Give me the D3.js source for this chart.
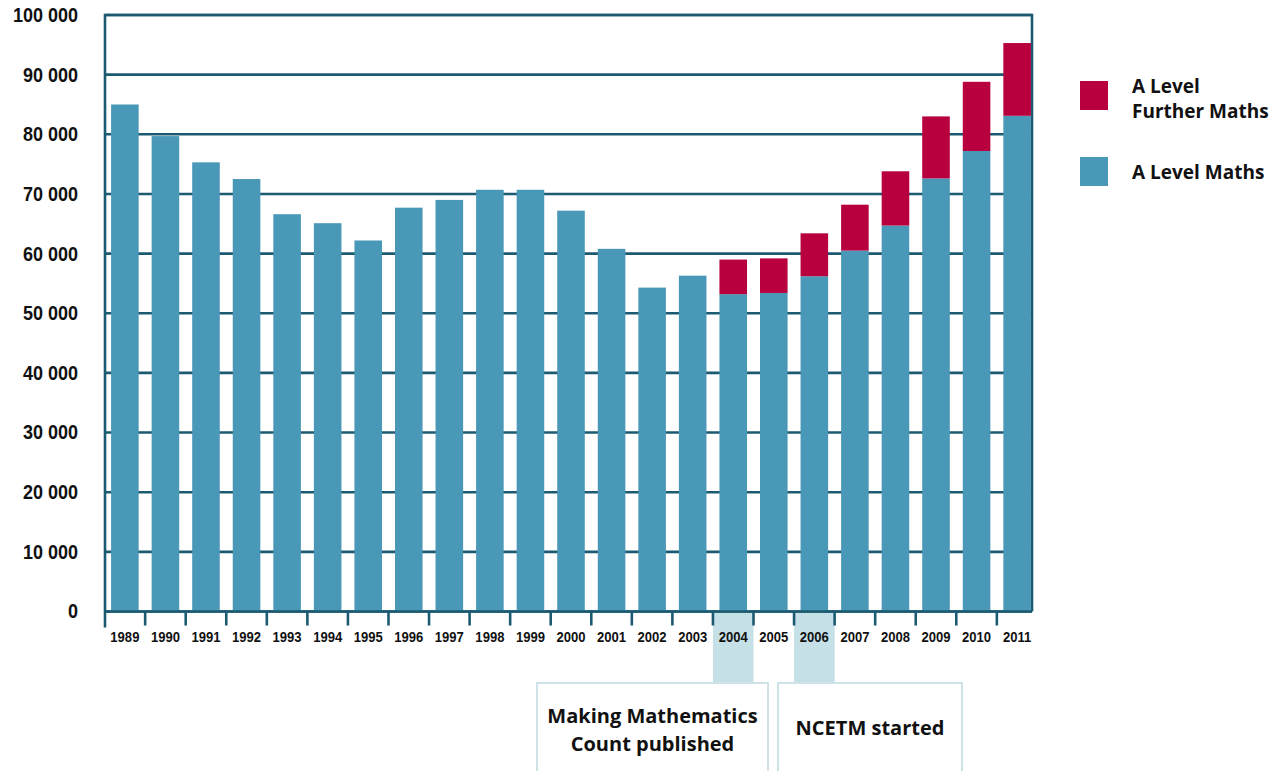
<!DOCTYPE html>
<html>
<head>
<meta charset="utf-8">
<script src="https://cdn.jsdelivr.net/npm/d3@7"></script>
<style>
  body { margin: 0; background: #fff; }
  svg { display: block; }
</style>
</head>
<body>
<div id="chart"></div>
<script>
const years = ["1989","1990","1991","1992","1993","1994","1995","1996","1997","1998","1999","2000",
               "2001","2002","2003","2004","2005","2006","2007","2008","2009","2010","2011"];
const maths = [85000,79700,75300,72500,66600,65100,62200,67700,69000,70700,70700,67200,
               60800,54300,56300,53200,53400,56200,60500,64700,72600,77200,83100];
const furtherMaths = [0,0,0,0,0,0,0,0,0,0,0,0,0,0,0,5800,5800,7200,7700,9100,10400,11600,12200];
const yTicks = [0,10000,20000,30000,40000,50000,60000,70000,80000,90000,100000];
const seriesNames = ["A Level Maths","A Level Further Maths"];
const milestones = [
  {year: "2004", lines: ["Making Mathematics","Count published"]},
  {year: "2006", lines: ["NCETM started"]}
];

const width = 1286, height = 771;
const plotLeft = 105, plotRight = 1032, plotTop = 15, plotBottom = 611.5;
const lineColor = "#1b5a70";
const blue = "#4a98b8", red = "#b8003f";
const arial = "'Liberation Sans', Arial, sans-serif";
const sans = "'Open Sans', 'Noto Sans', sans-serif";

const svg = d3.select("#chart").append("svg")
  .attr("width", width).attr("height", height);

const x = d3.scaleBand().domain(years).range([plotLeft, 1037]).paddingInner(0.32).paddingOuter(0.15);
const y = d3.scaleLinear().domain([0, 100000]).range([plotBottom, plotTop]);
const gap = x.step() * x.paddingInner() / 2;
const fmt = d3.formatLocale({thousands: " ", grouping: [3], decimal: "."}).format(",");

// squeeze text horizontally to look like a narrow face
const condense = (sel, k) => sel.each(function() {
  const w = this.getComputedTextLength();
  d3.select(this).attr("textLength", w * k).attr("lengthAdjust", "spacingAndGlyphs");
});

// gridlines
svg.append("g").selectAll("line").data(yTicks).join("line")
  .attr("x1", plotLeft).attr("x2", plotRight)
  .attr("y1", d => y(d)).attr("y2", d => y(d))
  .attr("stroke", lineColor).attr("stroke-width", 2.6);

// frame
svg.append("path")
  .attr("d", `M${plotLeft},${plotBottom + 16}V${plotTop}H${plotRight}V${plotBottom}`)
  .attr("fill", "none").attr("stroke", lineColor).attr("stroke-width", 2.6);

// milestone pillars
svg.append("g").selectAll("rect").data(milestones).join("rect")
  .attr("x", d => x(d.year) - gap)
  .attr("width", x.bandwidth() + 2 * gap)
  .attr("y", plotBottom + 1.5).attr("height", 683 - plotBottom - 1.5)
  .attr("fill", "#c6e0e7");

// stacked bars
const rows = years.map((yr, i) => ({year: yr, maths: maths[i], further: furtherMaths[i]}));
const stack = d3.stack().keys(["maths", "further"])(rows);
const colors = {maths: blue, further: red};
svg.append("g").selectAll("g").data(stack).join("g")
  .attr("fill", d => colors[d.key])
  .selectAll("rect").data(d => d.filter(p => p[1] > p[0])).join("rect")
    .attr("x", d => x(d.data.year))
    .attr("width", x.bandwidth())
    .attr("y", d => y(d[1]))
    .attr("height", d => y(d[0]) - y(d[1]));

// bottom axis line and ticks between bars
svg.append("line")
  .attr("x1", plotLeft).attr("x2", plotRight).attr("y1", plotBottom).attr("y2", plotBottom)
  .attr("stroke", lineColor).attr("stroke-width", 2.6);
svg.append("g").selectAll("line").data(years.slice(1)).join("line")
  .attr("x1", d => x(d) - gap).attr("x2", d => x(d) - gap)
  .attr("y1", plotBottom).attr("y2", plotBottom + 14)
  .attr("stroke", lineColor).attr("stroke-width", 2.6);

// x labels
svg.append("g")
  .attr("transform", `translate(0,${plotBottom})`)
  .call(d3.axisBottom(x).tickSize(0).tickPadding(0))
  .call(g => g.select(".domain").remove())
  .call(g => g.selectAll("text")
    .attr("y", 30).attr("dy", 0)
    .attr("fill", "#111")
    .attr("font-family", arial).attr("font-weight", "bold")
    .attr("font-size", 15)
    .call(condense, 0.87));

// y labels
svg.append("g")
  .attr("transform", `translate(78,0)`)
  .call(d3.axisLeft(y).tickValues(yTicks).tickFormat(fmt).tickSize(0).tickPadding(0))
  .call(g => g.select(".domain").remove())
  .call(g => g.selectAll("text")
    .attr("fill", "#111")
    .attr("font-family", arial).attr("font-weight", "bold")
    .attr("font-size", 20)
    .call(condense, 0.9));

// milestone boxes
const boxes = [{x0: 537, x1: 768}, {x0: 778, x1: 962}];
const mg = svg.append("g").selectAll("g").data(milestones).join("g");
mg.append("rect")
  .attr("x", (d, i) => boxes[i].x0).attr("width", (d, i) => boxes[i].x1 - boxes[i].x0)
  .attr("y", 683).attr("height", 100)
  .attr("fill", "#fff").attr("stroke", "#cfe2e8").attr("stroke-width", 2);
mg.append("text")
  .attr("text-anchor", "middle")
  .attr("font-family", sans).attr("font-weight", "bold").attr("font-size", 20)
  .attr("fill", "#111")
  .attr("x", (d, i) => (boxes[i].x0 + boxes[i].x1) / 2)
  .attr("y", d => d.lines.length > 1 ? 723 : 735)
  .selectAll("tspan").data(d => d.lines).join("tspan")
    .attr("x", function() { return this.parentNode.getAttribute("x"); })
    .attr("dy", (d, i) => i ? 28 : 0)
    .text(d => d);

// legend
const legend = [
  {color: red, y: 81, lines: ["A Level", "Further Maths"]},
  {color: blue, y: 157, lines: [seriesNames[0]]}
];
const lg = svg.append("g").selectAll("g").data(legend).join("g");
lg.append("rect")
  .attr("x", 1080).attr("y", d => d.y).attr("width", 28).attr("height", 29)
  .attr("fill", d => d.color);
lg.append("text")
  .attr("font-family", sans).attr("font-weight", "bold").attr("font-size", 19)
  .attr("fill", "#111")
  .attr("x", 1132)
  .attr("y", d => d.lines.length > 1 ? d.y + 12 : d.y + 22)
  .selectAll("tspan").data(d => d.lines).join("tspan")
    .attr("x", 1132)
    .attr("dy", (d, i) => i ? 24.5 : 0)
    .text(d => d);
</script>
</body>
</html>
